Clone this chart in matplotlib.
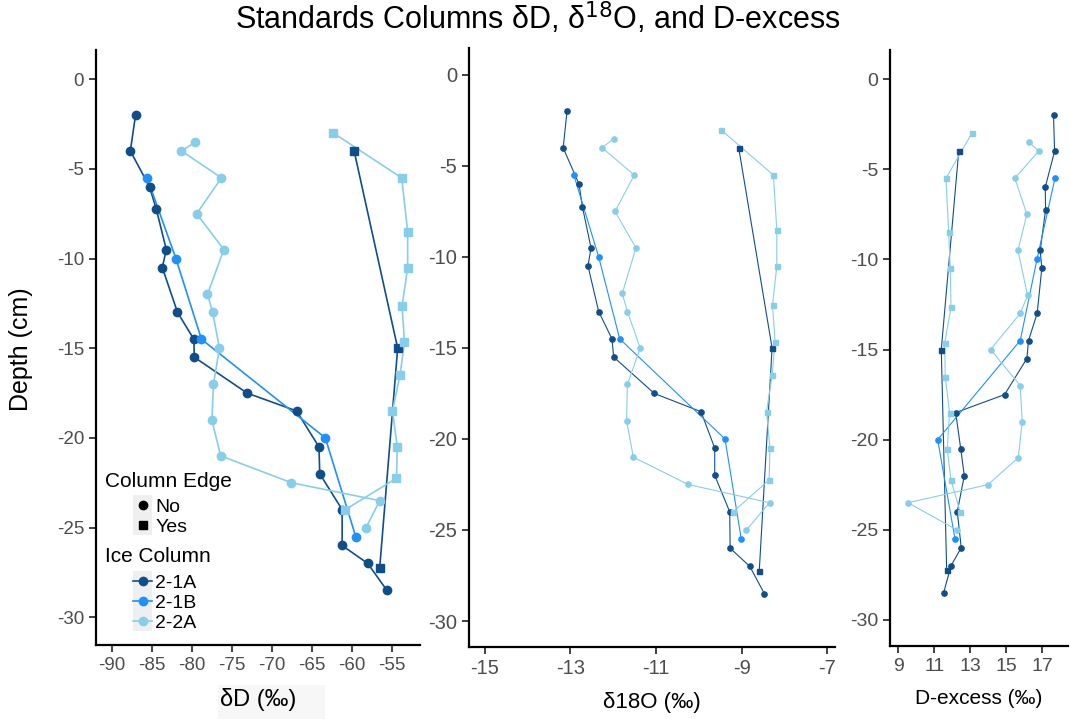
import matplotlib
matplotlib.use("Agg")
import matplotlib.pyplot as plt
from matplotlib.lines import Line2D
from matplotlib.patches import Rectangle
from matplotlib.legend_handler import HandlerLine2D

plt.rcParams["font.family"] = ["Liberation Sans", "DejaVu Sans"]
plt.rcParams["axes.unicode_minus"] = False

# --- Dados: profundidade (cm) e isótopos por coluna de gelo ---
# 2-1A, amostras fora da borda (No)
depth_1a = [-2, -4, -6, -7.25, -9.5, -10.5, -13, -14.5, -15.5, -17.5, -18.5, -20.5, -22, -24, -26, -27, -28.5]
dD_1a = [-87.05, -87.7, -85.3, -84.45, -83.2, -83.7, -81.8, -79.75, -79.7, -73.1, -66.9, -64.1, -64.0, -61.2, -61.2, -58.0, -55.6]
d18O_1a = [-13.08, -13.17, -12.80, -12.72, -12.52, -12.59, -12.34, -12.03, -11.99, -11.04, -9.95, -9.63, -9.63, -9.28, -9.27, -8.81, -8.47]
dex_1a = [17.63, 17.69, 17.17, 17.19, 16.89, 16.98, 16.72, 16.24, 16.15, 14.91, 12.19, 12.47, 12.67, 12.28, 12.5, 11.93, 11.52]

# 2-1A, amostras de borda (Yes)
depth_1a_edge = [-4, -15, -27.25]
dD_1a_edge = [-59.7, -54.25, -56.5]
d18O_1a_edge = [-9.07, -8.29, -8.59]
dex_1a_edge = [12.36, 11.39, 11.69]

# 2-1B (sem amostras de borda)
depth_1b = [-5.5, -10, -14.5, -20, -25.5]
dD_1b = [-85.6, -82.0, -78.8, -63.3, -59.5]
d18O_1b = [-12.92, -12.34, -11.85, -9.39, -9.01]
dex_1b = [17.71, 16.71, 15.78, 11.19, 12.15]

# 2-2A, fora da borda
depth_2a = [-3.5, -4, -5.5, -7.5, -9.5, -12, -13, -15, -17, -19, -21, -22.5, -23.5, -25]
dD_2a = [-79.55, -81.3, -76.3, -79.4, -76.0, -78.05, -77.4, -76.55, -77.3, -77.5, -76.4, -67.55, -56.5, -58.2]
d18O_2a = [-11.99, -12.26, -11.51, -11.96, -11.47, -11.79, -11.67, -11.37, -11.67, -11.69, -11.53, -10.25, -8.35, -8.89]
dex_2a = [16.28, 16.8, 15.48, 16.15, 15.65, 16.19, 15.78, 14.13, 15.78, 15.89, 15.67, 13.98, 9.54, 12.24]

# 2-2A, borda
depth_2a_edge = [-3, -5.5, -8.5, -10.5, -12.65, -14.65, -16.5, -18.5, -20.5, -22.25, -24]
dD_2a_edge = [-62.3, -53.75, -53.0, -53.0, -53.7, -53.4, -53.96, -54.9, -54.3, -54.4, -60.8]
d18O_2a_edge = [-9.49, -8.26, -8.18, -8.18, -8.28, -8.22, -8.29, -8.42, -8.34, -8.36, -9.2]
dex_2a_edge = [13.09, 11.65, 11.8, 11.89, 11.93, 11.58, 11.61, 11.85, 11.72, 11.93, 12.44]

columns = ["2-1A", "2-1B", "2-2A"]
colors = {"2-1A": "#104E8B", "2-1B": "#1E90FF", "2-2A": "#87CEEB"}

# (coluna, borda, profundidade, dD, d18O, dex)
series = [
    ("2-1A", False, depth_1a, dD_1a, d18O_1a, dex_1a),
    ("2-1A", True, depth_1a_edge, dD_1a_edge, d18O_1a_edge, dex_1a_edge),
    ("2-1B", False, depth_1b, dD_1b, d18O_1b, dex_1b),
    ("2-2A", False, depth_2a, dD_2a, d18O_2a, dex_2a),
    ("2-2A", True, depth_2a_edge, dD_2a_edge, d18O_2a_edge, dex_2a_edge),
]

yticks = [0, -5, -10, -15, -20, -25, -30]

fig = plt.figure(figsize=(10.7, 7.19), dpi=100)

# fundo cinza claro atrás do rótulo do δD
fig.patches.append(Rectangle((0.2037, 0.0), 0.1, 0.047, transform=fig.transFigure,
                             facecolor="#f7f7f7", edgecolor="none", zorder=-5))

ax1 = fig.add_axes([0.0897, 0.1029, 0.3028, 0.8276])
ax2 = fig.add_axes([0.4383, 0.1001, 0.3421, 0.8331])
ax3 = fig.add_axes([0.8318, 0.1015, 0.1664, 0.8290])

# configuração por painel: eixo, índice da variável, limites, ticks, rótulo, tamanhos
panels = [
    (ax1, 3, (-92.0, -51.46), (-31.55, 1.63), [-90, -85, -80, -75, -70, -65, -60, -55], "δD (‰)", 17, 13.5, 6.0, 5.2, 1.2),
    (ax2, 4, (-15.37, -6.82), (-31.43, 1.48), [-15, -13, -11, -9, -7], "δ18O (‰)", 16, 14.5, 3.8, 3.6, 0.8),
    (ax3, 5, (8.54, 18.44), (-31.45, 1.62), [9, 11, 13, 15, 17], "D-excess (‰)", 15, 14, 3.8, 3.6, 0.8),
]

for ax, idx, xlim, ylim, xticks, xlabel, lab_fs, tick_fs, ms_c, ms_s, lw in panels:
    for s in series:
        col, edge = s[0], s[1]
        depth, vals = s[2], s[idx]
        ax.plot(vals, depth, color=colors[col], lw=lw, zorder=2)
        ax.plot(vals, depth, ls="none", marker="s" if edge else "o",
                ms=ms_s if edge else ms_c, color=colors[col], mec=colors[col], zorder=3)
    ax.set_xlim(*xlim)
    ax.set_ylim(*ylim)
    ax.set_xticks(xticks)
    ax.set_yticks(yticks)
    ax.set_xlabel(xlabel, fontsize=lab_fs, labelpad=10)
    ax.patch.set_alpha(0)
    for side in ["top", "right"]:
        ax.spines[side].set_visible(False)
    for side in ["left", "bottom"]:
        ax.spines[side].set_linewidth(1.6)
        ax.spines[side].set_color("black")
    ax.tick_params(axis="both", length=5, width=1.3, color="#333333",
                   labelcolor="#4d4d4d", labelsize=tick_fs, direction="out")

ax1.set_ylabel("Depth (cm)", fontsize=18)
ax1.yaxis.set_label_coords(-0.194, 0.497)

fig.text(0.503, 0.975, "Standards Columns δD, δ$^{18}$O, and D-excess",
         fontsize=22, ha="center", va="center")


class KeyHandler(HandlerLine2D):
    """Chave da legenda com fundo cinza, estilo ggplot."""

    def create_artists(self, legend, orig_handle, xdescent, ydescent,
                       width, height, fontsize, trans):
        artists = super().create_artists(legend, orig_handle, xdescent, ydescent,
                                         width, height, fontsize, trans)
        bg = Rectangle((-xdescent, -ydescent - 0.22 * height), width, height * 1.44,
                       facecolor="#efefef", edgecolor="none", transform=trans, zorder=0)
        return [bg] + artists


leg_kw = dict(frameon=False, fontsize=14, handlelength=1.0, handletextpad=0.15,
              labelspacing=0.12, borderpad=0.0, borderaxespad=0.0,
              handler_map={Line2D: KeyHandler()})

# legenda da borda da coluna
ax1.text(0.028, 0.2756, "Column Edge", transform=ax1.transAxes,
         fontsize=15, ha="left", va="center")
edge_handles = [
    Line2D([], [], ls="none", marker="o", color="black", ms=6),
    Line2D([], [], ls="none", marker="s", color="black", ms=5.5),
]
leg1 = ax1.legend(edge_handles, ["No", "Yes"], loc="center left",
                  bbox_to_anchor=(0.114, 0.215), **leg_kw)
ax1.add_artist(leg1)

# legenda das colunas de gelo
ax1.text(0.028, 0.148, "Ice Column", transform=ax1.transAxes,
         fontsize=15, ha="left", va="center")
col_handles = [Line2D([], [], color=colors[c], lw=1.2, marker="o", ms=6) for c in columns]
ax1.legend(col_handles, columns, loc="center left",
           bbox_to_anchor=(0.114, 0.0706), **leg_kw)

fig.savefig("out.png", dpi=100)
